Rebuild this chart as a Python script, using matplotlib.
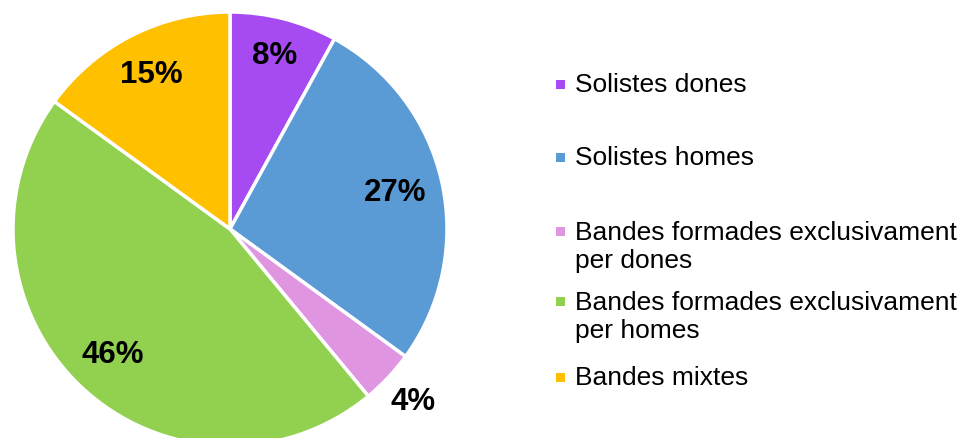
import matplotlib
matplotlib.use("Agg")
import matplotlib.pyplot as plt
from matplotlib.patches import Rectangle
import numpy as np

categories = ["Solistes dones", "Solistes homes",
              "Bandes formades exclusivament\nper dones",
              "Bandes formades exclusivament\nper homes",
              "Bandes mixtes"]
values = [8, 27, 4, 46, 15]
labels_pct = ["8%", "27%", "4%", "46%", "15%"]
colors = ["#A64BF2", "#5B9BD5", "#DF95DF", "#92D050", "#FFC000"]

plt.rcParams['font.family'] = ['Liberation Sans', 'DejaVu Sans']

W, H = 969, 439
fig = plt.figure(figsize=(W / 100, H / 100), dpi=100)

cx, cy, R = 230, 230, 217
ax = fig.add_axes([(cx - R) / W, (H - cy - R) / H, 2 * R / W, 2 * R / H])
wedges, _ = ax.pie(values, colors=colors, startangle=90, counterclock=False,
                   radius=1, wedgeprops=dict(edgecolor="white", linewidth=2.5))
ax.set_xlim(-1, 1)
ax.set_ylim(-1, 1)
ax.set_aspect("equal")
ax.axis("off")

dists = [0.83, 0.78, 1.16, 0.79, 0.80]
total = sum(values)
start = 90.0
for v, lab, d in zip(values, labels_pct, dists):
    mid = start - v / total * 360 / 2
    start -= v / total * 360
    a = np.deg2rad(mid)
    ax.text(d * np.cos(a), d * np.sin(a), lab, ha="center", va="center",
            fontsize=22.5, fontweight="bold", color="black", clip_on=False)

# legend
first_line_y = [85, 158, 232, 302, 378]
line_h = 30
for cat, col, y in zip(categories, colors, first_line_y):
    n = cat.count("\n") + 1
    fig.patches.append(Rectangle((556 / W, (H - y - 4.5) / H), 9 / W, 9 / H,
                                 transform=fig.transFigure, facecolor=col,
                                 edgecolor="none"))
    yc = y + (n - 1) * line_h / 2
    fig.text(575 / W, (H - yc) / H, cat, ha="left", va="center",
             fontsize=19, color="black", linespacing=1.22,
             transform=fig.transFigure)

fig.savefig("out.png", dpi=100, facecolor="white")
